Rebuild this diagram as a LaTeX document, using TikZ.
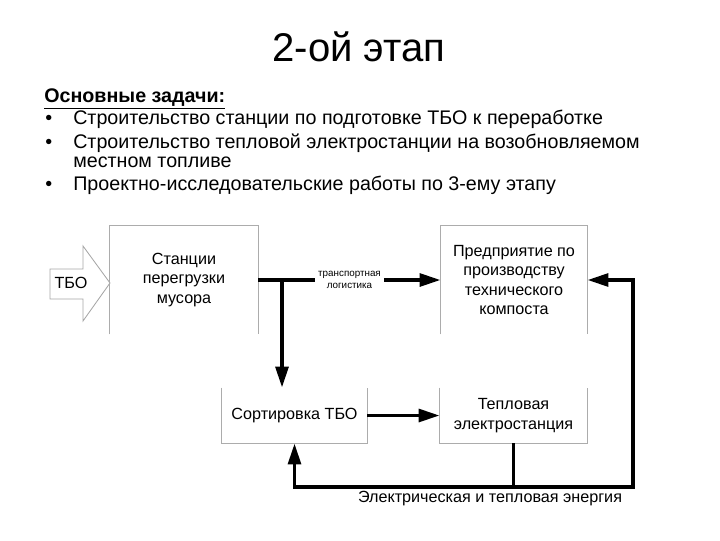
\documentclass[tikz,border=0pt]{standalone}
\usepackage{fontspec}
\setmainfont{Liberation Sans}
\usetikzlibrary{arrows.meta,positioning,calc}
\tikzset{
  box/.style={align=center,inner sep=2pt,font=\fontsize{11.5}{13.8}\selectfont},
  rim/.style={draw=gray!65,line width=0.7pt},
  flow/.style={line width=2.8pt,-{Triangle[length=15pt,width=9pt]}},
  wire/.style={line width=2.8pt},
  lbl/.style={font=\fontsize{7}{8}\selectfont,fill=white,inner sep=2pt,align=center},
  txt/.style={anchor=base west,inner sep=0pt,font=\fontsize{14}{16}\selectfont}
}

\begin{document}
\begin{tikzpicture}[x=0.025cm,y=-0.025cm]
\useasboundingbox (0,0) rectangle (720,540);
% heading and task list
\node[inner sep=0pt,font=\fontsize{28.5}{32}\selectfont] (ttl) at (359,47) {2-ой этап};
\node[txt] (hd) at (44,102) {\textbf{\underline{Основные задачи:}}};
\node[txt] (b1) at (45,124) {•};
\node[txt] (t1) at (73,124) {Строительство станции по подготовке ТБО к переработке};
\node[txt] (b2) at (45,148) {•};
\node[txt] (t2) at (73,148) {Строительство тепловой электростанции на возобновляемом};
\node[txt] (t3) at (73,167) {местном топливе};
\node[txt] (b3) at (45,190) {•};
\node[txt] (t4) at (73,190) {Проектно-исследовательские работы по 3-ему этапу};
% blocks
\node[box,minimum width=3.7cm,minimum height=2.7cm] (st) at (184,280) {Станции\\перегрузки\\мусора};
\node[box,minimum width=3.65cm,minimum height=2.7cm] (pr) at (514,280) {Предприятие по\\производству\\технического\\компоста};
\node[box,minimum width=3.625cm,minimum height=1.375cm] (so) at (294.5,415.5) {Сортировка ТБО};
\node[box,minimum width=3.675cm,minimum height=1.375cm] (te) at (513.5,415.5) {Тепловая\\электростанция};
\draw[rim] (st.south west) -- (st.north west) -- (st.north east) -- (st.south east);
\draw[rim] (pr.south west) -- (pr.north west) -- (pr.north east) -- (pr.south east);
\draw[rim] (so.north west) -- (so.south west) -- (so.south east) -- (so.north east);
\draw[rim] (te.north west) -- (te.south west) -- (te.south east) -- (te.north east);
% input arrow
\draw[draw=gray!70,fill=white,line width=0.6pt] (50,269) -- (83,269) -- (83,246) -- (110,283) -- (83,321) -- (83,299) -- (50,299) -- cycle;
\node[box] (tbo) at (71,283) {ТБО};
% connectors
\coordinate (fork) at (282,280);
\coordinate (er) at (633,487);
\coordinate (el) at (294.5,487);
\draw[flow] (st.east) -- node[lbl] (log) {транспортная\\логистика} (pr.west);
\draw[flow] (fork) -- (fork |- so.north);
\draw[flow] (so.east) -- (te.west);
\draw[wire] (te.south) -- (te.south |- er);
\draw[flow,line join=miter] (er) -- (er |- pr.east) -- (pr.east);
\draw[flow,line join=miter] ([xshift=1.4pt]er) -- (el) -- (so.south);
\node[box] (en) at (490,499) {Электрическая и тепловая энергия};
\end{tikzpicture}
\end{document}
